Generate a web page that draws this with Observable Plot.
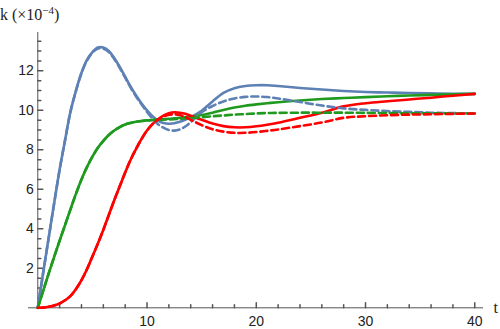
<!DOCTYPE html>
<html><head><meta charset="utf-8">
<script src="https://cdn.jsdelivr.net/npm/d3@7"></script>
<script src="https://cdn.jsdelivr.net/npm/@observablehq/plot@0.6"></script>
<style>html,body{margin:0;padding:0;background:#fff}svg{display:block}</style>
</head><body><div id="chart"></div>
<script>
// sample times (t)
const tGrid = [0,0.5,1,1.5,2,2.5,3,3.5,4,4.5,5,5.5,6,6.5,7,7.5,8,8.5,9,9.5,10,10.5,11,11.5,12,12.5,13,13.5,14,15,16,17,18,19,20,21,22,24,26,28,30,32,34,36,38,40];
// k values (×10^-4)
const blueSolid  = [0,1.8,3.55,5.3,7.0,8.5,9.95,11.0,11.9,12.55,12.95,13.18,13.18,13.0,12.65,12.2,11.7,11.2,10.75,10.35,10.0,9.7,9.48,9.36,9.32,9.34,9.42,9.52,9.65,9.98,10.45,10.88,11.12,11.23,11.27,11.27,11.23,11.13,11.05,10.98,10.93,10.9,10.88,10.86,10.84,10.83];
const blueDashed = [0,1.8,3.55,5.3,7.0,8.5,9.95,11.0,11.88,12.52,12.92,13.13,13.12,12.95,12.6,12.15,11.65,11.15,10.7,10.3,9.92,9.58,9.3,9.12,9.0,8.97,9.03,9.18,9.4,9.9,10.22,10.45,10.6,10.68,10.7,10.67,10.6,10.42,10.24,10.1,10.02,9.96,9.92,9.88,9.86,9.84];
const greenSolid = [0,0.87,1.74,2.58,3.4,4.2,5.0,5.78,6.5,7.12,7.65,8.1,8.45,8.75,8.98,9.15,9.28,9.36,9.42,9.46,9.49,9.51,9.53,9.55,9.57,9.59,9.62,9.65,9.68,9.76,9.88,10.02,10.14,10.23,10.3,10.36,10.41,10.5,10.57,10.62,10.67,10.71,10.75,10.78,10.81,10.83];
const greenDashed= [0,0.87,1.74,2.58,3.4,4.2,5.0,5.78,6.5,7.12,7.65,8.1,8.45,8.75,8.98,9.15,9.28,9.36,9.42,9.46,9.49,9.51,9.52,9.53,9.54,9.55,9.57,9.59,9.61,9.65,9.7,9.74,9.78,9.81,9.84,9.86,9.87,9.88,9.88,9.88,9.87,9.86,9.85,9.85,9.84,9.84];
const redSolid   = [0,0.01,0.05,0.12,0.22,0.38,0.6,0.95,1.4,1.95,2.6,3.25,3.95,4.7,5.45,6.15,6.85,7.5,8.05,8.55,8.98,9.3,9.55,9.73,9.85,9.9,9.88,9.82,9.72,9.52,9.33,9.2,9.14,9.14,9.19,9.27,9.37,9.62,9.88,10.2,10.36,10.46,10.55,10.64,10.74,10.83];
const redDashed  = [0,0.01,0.05,0.12,0.22,0.38,0.6,0.95,1.4,1.95,2.6,3.25,3.95,4.7,5.45,6.15,6.85,7.5,8.05,8.55,8.98,9.3,9.53,9.68,9.77,9.8,9.76,9.66,9.52,9.25,9.04,8.92,8.86,8.86,8.9,8.96,9.03,9.2,9.38,9.62,9.7,9.75,9.78,9.8,9.82,9.84];

const xMajor = [10,20,30,40];
const xMinor = [2,4,6,8,12,14,16,18,22,24,26,28,32,34,36,38];
const yMajor = [2,4,6,8,10,12];
const yMinor = [0.5,1,1.5,2.5,3,3.5,4.5,5,5.5,6.5,7,7.5,8.5,9,9.5,10.5,11,11.5,12.5,13,13.5];

const rows = arr => tGrid.map((t, i) => ({t, k: arr[i]}));
const blue = "#5e81b5", green = "#1f9a1f", red = "#ff0000";
const axisColor = "#555";
const tickUp = {draw(ctx, l) { ctx.moveTo(0, 0); ctx.lineTo(0, -l); }};
const sans = "Liberation Sans, Arial, sans-serif";
const dash = "7,4";
const lw = 2.6;

const plot = Plot.plot({
  width: 500, height: 329,
  marginLeft: 28, marginRight: 17, marginTop: 32, marginBottom: 21.7,
  x: {domain: [-0.85, 40.8], axis: null},
  y: {domain: [0, 13.94], axis: null},
  style: {background: "#fff", overflow: "visible"},
  marks: [
    Plot.ruleY([0], {stroke: axisColor, strokeWidth: 1}),
    Plot.ruleX([0], {stroke: axisColor, strokeWidth: 1}),
    Plot.vector(xMajor, {x: d => d, y: () => 0, length: 5, shape: tickUp, anchor: "start", stroke: axisColor}),
    Plot.vector(xMinor, {x: d => d, y: () => 0, length: 3, shape: tickUp, anchor: "start", stroke: axisColor}),
    Plot.vector(yMajor, {x: () => 0, y: d => d, length: 5, rotate: 90, shape: tickUp, anchor: "start", stroke: axisColor}),
    Plot.vector(yMinor, {x: () => 0, y: d => d, length: 3, rotate: 90, shape: tickUp, anchor: "start", stroke: axisColor}),
    Plot.text(xMajor, {x: d => d, y: () => 0, text: d => String(d), dy: 14, lineAnchor: "middle", fontFamily: sans, fontSize: 14, fill: "#222"}),
    Plot.text(yMajor, {x: () => 0, y: d => d, text: d => String(d), dx: -4, textAnchor: "end", lineAnchor: "middle", fontFamily: sans, fontSize: 14, fill: "#222"}),
    Plot.line(rows(blueSolid), {x: "t", y: "k", stroke: blue, strokeWidth: lw, curve: "catmull-rom"}),
    Plot.line(rows(greenSolid), {x: "t", y: "k", stroke: green, strokeWidth: lw, curve: "catmull-rom"}),
    Plot.line(rows(redSolid), {x: "t", y: "k", stroke: red, strokeWidth: lw, curve: "catmull-rom"}),
    Plot.line(rows(blueDashed), {x: "t", y: "k", stroke: blue, strokeWidth: lw, strokeDasharray: dash, curve: "catmull-rom"}),
    Plot.line(rows(greenDashed), {x: "t", y: "k", stroke: green, strokeWidth: lw, strokeDasharray: dash, curve: "catmull-rom"}),
    Plot.line(rows(redDashed), {x: "t", y: "k", stroke: red, strokeWidth: lw, strokeDasharray: dash, curve: "catmull-rom"}),
    Plot.text(["t"], {frameAnchor: "bottom-right", text: d => d, dx: 10, textAnchor: "start", lineAnchor: "middle", fontFamily: "Liberation Serif, serif", fontSize: 16, fill: "#222"})
  ]
});

const svg = d3.select(plot);
const lab = svg.append("text")
  .attr("x", 0).attr("y", 20)
  .attr("text-anchor", "start")
  .attr("font-family", "Liberation Serif, serif").attr("font-size", 16).attr("fill", "#222");
lab.append("tspan").text("k (×10");
lab.append("tspan").attr("dy", -6).attr("font-size", 11).text("−4");
lab.append("tspan").attr("dy", 6).text(")");

document.getElementById("chart").appendChild(plot);
</script>
</body></html>
